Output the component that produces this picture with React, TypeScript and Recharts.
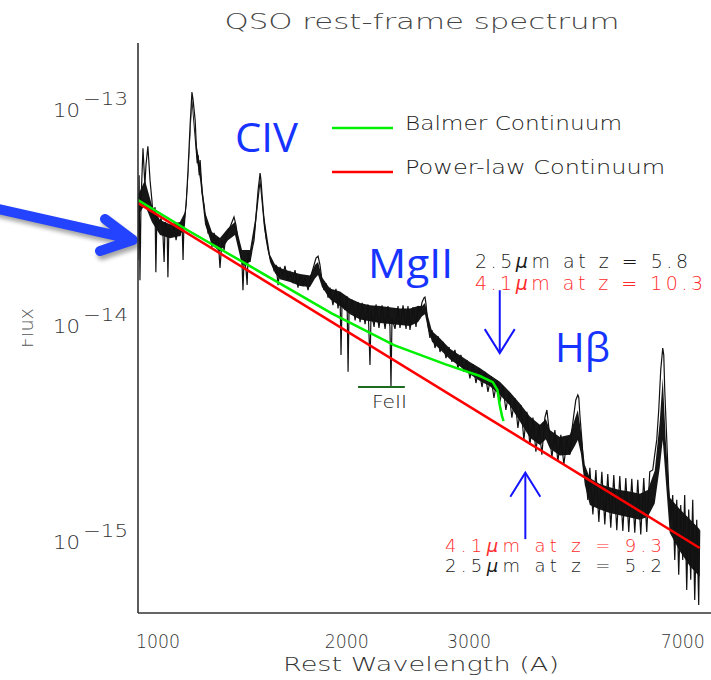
import React from 'react';
import {
  ComposedChart,
  Line,
  Area,
  XAxis,
  YAxis,
  ReferenceLine,
  Legend,
  Customized,
} from 'recharts';

// Composite QSO spectrum: rest wavelength (Å) and flux in units of 1e-15
const specWave = [
  1000, 1004, 1007, 1011, 1018, 1025, 1029, 1036, 1044, 1051,
  1055, 1063, 1066, 1070, 1078, 1086, 1093, 1098, 1102, 1110,
  1113, 1117, 1129, 1137, 1146, 1154, 1162, 1171, 1175, 1179,
  1188, 1196, 1205, 1213, 1218, 1227, 1231, 1236, 1240, 1245,
  1249, 1258, 1267, 1271, 1280, 1285, 1294, 1303, 1313, 1322,
  1332, 1341, 1351, 1361, 1371, 1380, 1390, 1400, 1410, 1420,
  1431, 1441, 1451, 1456, 1462, 1472, 1478, 1483, 1493, 1504,
  1515, 1526, 1537, 1548, 1553, 1559, 1570, 1581, 1593, 1604,
  1616, 1627, 1639, 1651, 1662, 1680, 1692, 1710, 1723, 1741,
  1754, 1773, 1786, 1805, 1818, 1838, 1851, 1864, 1878, 1891,
  1905, 1918, 1932, 1946, 1960, 1974, 1988, 2009, 2031, 2046,
  2061, 2068, 2076, 2098, 2113, 2121, 2128, 2152, 2175, 2198,
  2214, 2230, 2254, 2278, 2294, 2303, 2328, 2344, 2369, 2395,
  2421, 2447, 2464, 2473, 2482, 2509, 2536, 2554, 2582, 2610,
  2628, 2647, 2676, 2705, 2724, 2744, 2764, 2783, 2793, 2803,
  2823, 2843, 2864, 2895, 2926, 2947, 2979, 3011, 3044, 3076,
  3109, 3142, 3176, 3210, 3245, 3280, 3315, 3352, 3388, 3425,
  3461, 3499, 3537, 3575, 3613, 3652, 3691, 3731, 3772, 3812,
  3853, 3895, 3937, 3979, 4022, 4066, 4110, 4154, 4199, 4244,
  4290, 4321, 4352, 4399, 4446, 4494, 4542, 4591, 4641, 4691,
  4725, 4758, 4792, 4827, 4844, 4862, 4897, 4932, 4967, 5003,
  5039, 5094, 5149, 5204, 5260, 5316, 5373, 5431, 5490, 5549,
  5609, 5670, 5731, 5792, 5855, 5918, 5982, 6046, 6111, 6177,
  6244, 6311, 6356, 6402, 6448, 6494, 6541, 6565, 6588, 6636,
  6683, 6731, 6779, 6828, 6877, 6926, 6976, 7026, 7076, 7127,
  7178, 7230, 7282, 7334, 7387, 7440, 7466,
];
const specFlux = [
  19.6, 48.4, 15.8, 37.1, 64.5, 43.5, 53.9, 65.9, 45.9, 37.1,
  31.6, 34.4, 17.2, 31.6, 28.4, 30.6, 26.4, 19.2, 29.4, 27.0,
  16.3, 27.5, 25.6, 28.4, 24.2, 27.5, 25.3, 28.4, 19.6, 29.4,
  35.2, 51.1, 82.5, 117.4, 107.7, 87.0, 70.3, 55.0, 59.9, 48.4,
  56.8, 40.0, 35.2, 32.3, 28.4, 26.2, 27.0, 22.5, 26.2, 23.0,
  24.8, 18.0, 24.2, 21.8, 25.6, 26.4, 27.8, 29.4, 31.0, 28.4,
  24.2, 21.8, 19.0, 14.2, 20.0, 17.6, 15.0, 21.1, 19.2, 21.8,
  24.2, 31.6, 41.3, 49.5, 45.9, 39.1, 30.0, 24.8, 21.8, 20.0,
  19.2, 17.6, 18.6, 15.0, 18.2, 16.7, 18.4, 15.8, 17.2, 15.3,
  17.6, 14.6, 16.7, 15.0, 16.3, 14.2, 15.8, 17.2, 18.6, 20.0,
  20.4, 18.6, 15.8, 14.2, 15.3, 13.1, 14.6, 12.1, 14.4, 11.7,
  13.9, 7.12, 12.8, 11.5, 13.3, 5.95, 11.2, 12.8, 10.3, 12.5,
  10.1, 12.4, 9.9, 12.2, 6.40, 11.4, 9.6, 12.2, 9.5, 12.1,
  9.4, 12.0, 9.6, 5.06, 10.5, 9.4, 12.0, 9.5, 12.1, 9.4,
  12.0, 9.3, 11.85, 9.6, 12.0, 11.2, 12.5, 13.1, 13.2, 12.3,
  9.79, 8.54, 9.29, 7.67, 8.71, 7.35, 8.18, 6.88, 7.75, 6.62,
  7.51, 6.18, 7.12, 5.95, 6.75, 5.55, 6.46, 5.28, 6.18, 5.06,
  5.95, 4.80, 5.66, 4.50, 5.45, 4.32, 5.11, 3.96, 4.80, 3.65,
  4.50, 3.27, 4.18, 2.88, 3.88, 2.73, 3.65, 2.54, 3.38, 2.46,
  3.65, 3.96, 3.27, 2.38, 3.20, 2.28, 3.04, 2.21, 2.88, 2.46,
  3.20, 3.76, 4.41, 4.65, 4.52, 3.76, 2.88, 2.09, 1.94, 1.52,
  2.14, 1.30, 2.09, 1.20, 2.05, 1.17, 2.00, 1.13, 1.98, 1.10,
  1.96, 1.09, 1.92, 1.08, 1.90, 1.07, 1.88, 1.05, 1.92, 1.08,
  2.05, 2.09, 2.46, 2.88, 3.96, 6.07, 7.67, 7.12, 4.90, 2.88,
  1.69, 1.23, 1.60, 0.80, 1.52, 0.684, 1.44, 0.80, 1.60, 0.582,
  1.37, 0.648, 1.52, 0.523, 1.23, 0.496, 1.10,
];

// Dense core of the pixel-to-pixel noise: upper / lower bounds (same units)
const bandWave = [
  1000, 1025, 1051, 1082, 1121, 1162, 1183, 1196, 1213, 1231,
  1249, 1271, 1303, 1341, 1380, 1415, 1451, 1493, 1520, 1548,
  1570, 1604, 1633, 1662, 1723, 1786, 1851, 1884, 1905, 1932,
  1988, 2061, 2136, 2214, 2294, 2378, 2464, 2554, 2647, 2724,
  2764, 2793, 2823, 2864, 2947, 3054, 3165, 3280, 3400, 3524,
  3652, 3785, 3923, 4066, 4214, 4305, 4367, 4526, 4691, 4775,
  4827, 4880, 4949, 5039, 5222, 5412, 5609, 5813, 6025, 6200,
  6356, 6471, 6541, 6612, 6707, 6951, 7204, 7466,
];
const bandHigh = [
  39.1, 45.9, 35.2, 30.0, 28.7, 29.4, 32.7, 50.2, 113.8, 68.8,
  53.9, 32.7, 26.4, 24.8, 27.5, 29.4, 21.8, 21.8, 30.0, 47.9,
  31.6, 20.7, 18.7, 17.97, 17.4, 16.9, 16.6, 18.6, 19.2, 16.3,
  14.45, 14.0, 13.0, 12.4, 12.1, 12.0, 11.85, 11.7, 11.7, 12.0,
  12.0, 12.4, 10.8, 9.2, 8.5, 7.6, 7.1, 6.6, 6.2, 5.75,
  5.35, 4.8, 4.25, 3.7, 3.38, 3.6, 3.2, 2.97, 3.04, 3.6,
  3.96, 3.17, 2.21, 1.92, 1.80, 1.74, 1.69, 1.66, 1.62, 1.69,
  2.07, 3.49, 5.57, 2.88, 1.56, 1.38, 1.24, 1.11,
];
const bandLow = [
  31.6, 35.2, 29.4, 25.6, 24.7, 25.3, 28.4, 45.0, 102.1, 59.9,
  45.9, 28.7, 23.0, 21.4, 24.2, 25.6, 18.6, 19.2, 26.4, 43.1,
  27.5, 19.2, 17.0, 15.98, 15.5, 14.85, 14.7, 16.1, 16.7, 14.7,
  12.9, 12.0, 11.0, 10.4, 10.2, 10.0, 9.9, 9.79, 9.69, 10.1,
  10.75, 11.0, 9.4, 8.2, 7.55, 6.8, 6.3, 5.8, 5.4, 5.1,
  4.65, 4.15, 3.5, 2.95, 2.73, 2.9, 2.63, 2.44, 2.46, 2.7,
  2.88, 2.49, 1.78, 1.44, 1.37, 1.32, 1.29, 1.26, 1.23, 1.27,
  1.46, 2.14, 2.88, 1.88, 1.07, 0.88, 0.75, 0.67,
];

// Continuum models
const balmerWave = [1000, 1200, 1500, 2000, 2500, 3000, 3400, 3560, 3620, 3650, 3680, 3700];
const balmerFlux = [37.1, 26.7, 18.2, 11.1, 7.91, 6.46, 5.69, 5.33, 4.90, 4.17, 3.71, 3.52];
const powerWave = [1000, 7466];
const powerFlux = [36.0, 0.91];

// Axes
const waveDomain = [1000, 8000];
const waveTicks = [1000, 2000, 3000, 7000];
const waveLabelShift = [20, 15, 24, 1];
const fluxDomain = [0.455, 198];
const fluxDecades = [1, 10, 100];
const fluxMinor = [0.5, 0.6, 0.7, 0.8, 0.9, 2, 3, 4, 5, 6, 7, 8, 9, 20, 30, 40, 50, 60, 70, 80, 90];
const fluxUnitExponent = -15;

// Redshift markers at the Balmer edge and just redward of it
const edgeMarkWave = 3650;
const edgeMarkFlux = [14.2, 7.26];
const redMarkWave = 4000;
const redMarkFlux = [1.0, 2.03];
const feBarWave = [2198, 2599];
const feBarFlux = 5.06;

const BALMER = 'Balmer Continuum';
const POWER = 'Power-law Continuum';
const legendOrder = [BALMER, POWER];

const THIN = "'DejaVu Sans', sans-serif";
const INK = '#333333';
const BLUE = '#1633ff';

const specData = specWave.map((w, i) => ({ wave: w, flux: specFlux[i] }));
const bandData = bandWave.map((w, i) => ({ wave: w, range: [bandLow[i], bandHigh[i]] }));
const balmerData = balmerWave.map((w, i) => ({ wave: w, flux: balmerFlux[i] }));
const powerData = powerWave.map((w, i) => ({ wave: w, flux: powerFlux[i] }));

const noTick = () => <g />;

const WaveTick = (props: any) => {
  const { x, y, payload } = props;
  const idx = waveTicks.indexOf(payload.value);
  const shift = idx >= 0 ? waveLabelShift[idx] : 0;
  return (
    <text
      x={x + shift}
      y={y}
      textAnchor="middle"
      fontFamily={THIN}
      fontWeight={200}
      fontSize={20}
      fill={INK}
      textLength={44}
      lengthAdjust="spacingAndGlyphs"
    >
      {payload.value}
    </text>
  );
};

const FluxTick = (props: any) => {
  const { x, y, payload } = props;
  const exp = Math.round(Math.log10(payload.value)) + fluxUnitExponent;
  return (
    <g>
      <text
        x={x - 48}
        y={y + 10}
        textAnchor="end"
        fontFamily={THIN}
        fontWeight={200}
        fontSize={20}
        fill={INK}
        textLength={27}
        lengthAdjust="spacingAndGlyphs"
      >
        10
      </text>
      <text
        x={x}
        y={y - 2}
        textAnchor="end"
        fontFamily={THIN}
        fontWeight={200}
        fontSize={18}
        fill={INK}
        textLength={45}
        lengthAdjust="spacingAndGlyphs"
      >
        {'\u2212' + Math.abs(exp)}
      </text>
    </g>
  );
};

const WaveTitle = (props: any) => {
  const vb = props.viewBox || { x: 138, y: 613, width: 581, height: 67 };
  return (
    <text
      x={421}
      y={vb.y + 58}
      textAnchor="middle"
      fontFamily={THIN}
      fontWeight={200}
      fontSize={20}
      fill={INK}
      textLength={276}
      lengthAdjust="spacingAndGlyphs"
    >
      Rest Wavelength (A)
    </text>
  );
};

const VerticalArrow = (props: any) => {
  const { x1, y1, x2, y2 } = props;
  const dir = y2 > y1 ? -1 : 1;
  return (
    <g stroke="#1414ff" strokeWidth={2} fill="none">
      <line x1={x1} y1={y1} x2={x2} y2={y2} />
      <polyline points={`${x2 - 15},${y2 + dir * 24} ${x2},${y2} ${x2 + 15},${y2 + dir * 24}`} />
    </g>
  );
};

const LegendBox = (props: any) => {
  const items = (props.payload || [])
    .filter((p: any) => legendOrder.includes(p.value))
    .sort((a: any, b: any) => legendOrder.indexOf(a.value) - legendOrder.indexOf(b.value));
  const widths: Record<string, number> = { [BALMER]: 217, [POWER]: 260 };
  return (
    <svg width={380} height={90} style={{ display: 'block', overflow: 'visible' }}>
      {items.map((it: any, i: number) => (
        <g key={it.value}>
          <line x1={4} x2={65} y1={28 + i * 44} y2={28 + i * 44} stroke={it.color} strokeWidth={2.5} />
          <text
            x={77}
            y={30 + i * 44}
            fontFamily={THIN}
            fontWeight={200}
            fontSize={20}
            fill="#222"
            textLength={widths[it.value]}
            lengthAdjust="spacingAndGlyphs"
          >
            {it.value}
          </text>
        </g>
      ))}
    </svg>
  );
};

const Annotations = () => (
  <g>
    <defs>
      <filter id="arrowShadow" x="-20%" y="-50%" width="140%" height="200%">
        <feGaussianBlur stdDeviation="2" />
      </filter>
      <clipPath id="fluxClip">
        <rect x={22} y={280} width={40} height={100} />
      </clipPath>
    </defs>

    <text
      x={422}
      y={29}
      textAnchor="middle"
      fontFamily={THIN}
      fontWeight={200}
      fontSize={22}
      fill="#444"
      textLength={395}
      lengthAdjust="spacingAndGlyphs"
    >
      QSO rest-frame spectrum
    </text>

    <g clipPath="url(#fluxClip)">
      <text
        transform="translate(33,328) rotate(-90)"
        textAnchor="middle"
        fontFamily={THIN}
        fontWeight={200}
        fontSize={20}
        fill="#555"
        textLength={40}
        lengthAdjust="spacingAndGlyphs"
      >
        Flux
      </text>
    </g>

    {/* pointer arrow at the left edge */}
    <g transform="translate(2,4)" opacity={0.35} filter="url(#arrowShadow)">
      <path
        d="M -10 207 L 131 239 M 105 219 L 133 240 L 100 251"
        stroke="#000"
        strokeWidth={10}
        fill="none"
        strokeLinecap="round"
        strokeLinejoin="round"
      />
    </g>
    <path
      d="M -10 207 L 131 239 M 105 219 L 133 240 L 100 251"
      stroke="#2343ff"
      strokeWidth={10}
      fill="none"
      strokeLinecap="round"
      strokeLinejoin="round"
    />

    <g fontFamily="'Open Sans', 'Liberation Sans', sans-serif" fontSize={40} fill={BLUE}>
      <text x={235} y={152} textLength={63} lengthAdjust="spacingAndGlyphs">CIV</text>
      <text x={368} y={278} textLength={85} lengthAdjust="spacingAndGlyphs">MgII</text>
      <text x={555} y={362} textLength={55} lengthAdjust="spacingAndGlyphs">Hβ</text>
    </g>

    <g fontFamily={THIN} fontWeight={200} lengthAdjust="spacingAndGlyphs">
      <text x={475} y={268} fontSize={19} fill="#1a1a1a" textLength={213}>
        2.5<tspan fontStyle="italic">μ</tspan>m at z = 5.8
      </text>
      <text x={475} y={290} fontSize={19} fill="#ff2a2a" textLength={228}>
        4.1<tspan fontStyle="italic">μ</tspan>m at z = 10.3
      </text>
      <text x={445} y={552} fontSize={18} fill="#ff2a2a" textLength={217}>
        4.1<tspan fontStyle="italic">μ</tspan>m at z = 9.3
      </text>
      <text x={445} y={572} fontSize={18} fill="#1a1a1a" textLength={217}>
        2.5<tspan fontStyle="italic">μ</tspan>m at z = 5.2
      </text>
    </g>

    <text
      x={372}
      y={408}
      fontFamily={THIN}
      fontWeight={200}
      fontSize={18}
      fill="#222"
      textLength={35}
      lengthAdjust="spacingAndGlyphs"
    >
      FeII
    </text>
  </g>
);

export default function App() {
  return (
    <div
      style={{
        position: 'absolute',
        left: 0,
        top: 0,
        width: 711,
        height: 680,
        overflow: 'hidden',
        background: '#fff',
      }}
    >
      <ComposedChart width={730} height={680} margin={{ top: 43, right: 11, bottom: 0, left: 0 }}>
        {/* tick-mark axes drawn inside the frame */}
        <XAxis
          xAxisId="bt"
          type="number"
          scale="log"
          domain={waveDomain}
          allowDataOverflow
          ticks={waveTicks}
          interval={0}
          mirror
          height={0}
          tickSize={12}
          tick={noTick}
          axisLine={false}
          tickLine={{ stroke: '#333', strokeWidth: 1.5 }}
        />
        <XAxis
          xAxisId="tp"
          orientation="top"
          type="number"
          scale="log"
          domain={waveDomain}
          allowDataOverflow
          ticks={waveTicks}
          interval={0}
          mirror
          height={0}
          tickSize={11}
          tick={noTick}
          axisLine={{ stroke: '#333', strokeWidth: 1.6 }}
          tickLine={{ stroke: '#333', strokeWidth: 1.5 }}
        />
        <XAxis
          dataKey="wave"
          type="number"
          scale="log"
          domain={waveDomain}
          allowDataOverflow
          ticks={waveTicks}
          interval={0}
          height={67}
          tickSize={0}
          tickMargin={35}
          tickLine={false}
          tick={<WaveTick />}
          axisLine={{ stroke: '#333', strokeWidth: 1.6 }}
          label={(p: any) => <WaveTitle {...p} />}
        />

        <YAxis
          yAxisId="minor"
          type="number"
          scale="log"
          domain={fluxDomain}
          allowDataOverflow
          ticks={fluxMinor}
          interval={0}
          mirror
          width={0}
          tickSize={6}
          tick={noTick}
          axisLine={false}
          tickLine={{ stroke: '#333', strokeWidth: 1.3 }}
        />
        <YAxis
          yAxisId="major"
          type="number"
          scale="log"
          domain={fluxDomain}
          allowDataOverflow
          ticks={fluxDecades}
          interval={0}
          mirror
          width={0}
          tickSize={12}
          tick={noTick}
          axisLine={false}
          tickLine={{ stroke: '#333', strokeWidth: 1.5 }}
        />
        <YAxis
          yAxisId="right"
          orientation="right"
          type="number"
          scale="log"
          domain={fluxDomain}
          allowDataOverflow
          ticks={fluxDecades}
          interval={0}
          mirror
          width={0}
          tickSize={12}
          tick={noTick}
          axisLine={{ stroke: '#333', strokeWidth: 1.6 }}
          tickLine={{ stroke: '#333', strokeWidth: 1.5 }}
        />
        <YAxis
          type="number"
          scale="log"
          domain={fluxDomain}
          allowDataOverflow
          ticks={fluxDecades}
          interval={0}
          width={138}
          tickSize={0}
          tickMargin={10}
          tickLine={false}
          tick={<FluxTick />}
          axisLine={{ stroke: '#333', strokeWidth: 1.6 }}
        />

        <Area
          data={bandData}
          dataKey="range"
          type="linear"
          stroke="none"
          fill="#0a0a0a"
          fillOpacity={0.95}
          legendType="none"
          isAnimationActive={false}
        />
        <Line
          data={specData}
          dataKey="flux"
          type="linear"
          stroke="#111"
          strokeWidth={1.2}
          dot={false}
          legendType="none"
          isAnimationActive={false}
        />
        <Line
          data={powerData}
          dataKey="flux"
          name={POWER}
          type="linear"
          stroke="#ff0000"
          strokeWidth={2.5}
          dot={false}
          isAnimationActive={false}
        />
        <Line
          data={balmerData}
          dataKey="flux"
          name={BALMER}
          type="linear"
          stroke="#00f000"
          strokeWidth={2.5}
          dot={false}
          isAnimationActive={false}
        />

        <ReferenceLine
          segment={[
            { x: feBarWave[0], y: feBarFlux },
            { x: feBarWave[1], y: feBarFlux },
          ]}
          stroke="#1d6b1d"
          strokeWidth={2}
        />
        <ReferenceLine
          segment={[
            { x: edgeMarkWave, y: edgeMarkFlux[0] },
            { x: edgeMarkWave, y: edgeMarkFlux[1] },
          ]}
          shape={(p: any) => <VerticalArrow {...p} />}
        />
        <ReferenceLine
          segment={[
            { x: redMarkWave, y: redMarkFlux[0] },
            { x: redMarkWave, y: redMarkFlux[1] },
          ]}
          shape={(p: any) => <VerticalArrow {...p} />}
        />

        <Legend
          layout="horizontal"
          verticalAlign="middle"
          align="center"
          wrapperStyle={{ left: 328, top: 100, width: 380, height: 90 }}
          content={(p: any) => <LegendBox {...p} />}
        />
        <Customized component={Annotations} />
      </ComposedChart>
    </div>
  );
}
